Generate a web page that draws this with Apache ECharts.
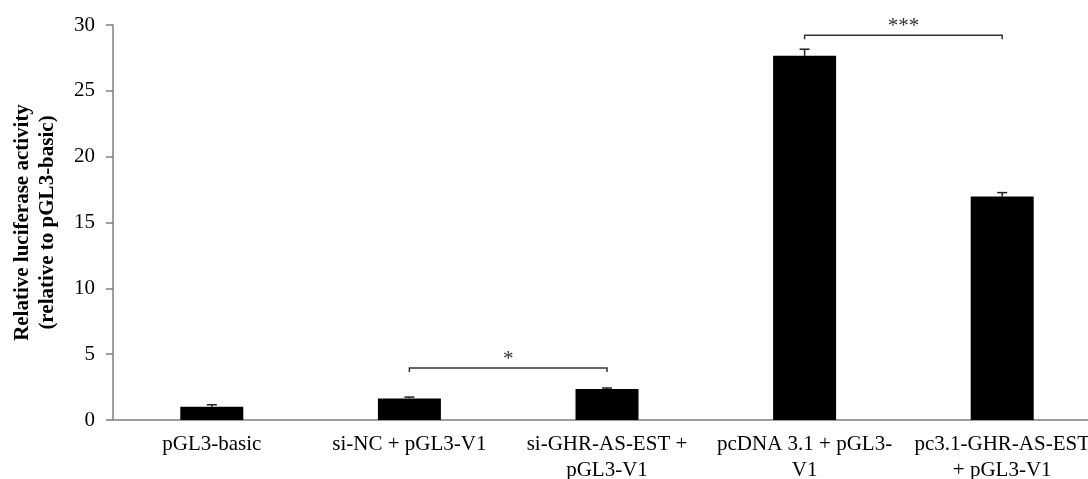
<!DOCTYPE html>
<html><head><meta charset="utf-8">
<script src="https://cdn.jsdelivr.net/npm/echarts@6/dist/echarts.min.js"></script>
<style>html,body{margin:0;padding:0;background:#fff}#c{width:1088px;height:479px}</style>
</head><body><div id="c"></div>
<script>
const categories = ['pGL3-basic', 'si-NC + pGL3-V1', 'si-GHR-AS-EST +\npGL3-V1', 'pcDNA 3.1 + pGL3-\nV1', 'pc3.1-GHR-AS-EST\n+ pGL3-V1'];
const values = [1.01, 1.64, 2.35, 27.66, 16.97];
const errors = [0.15, 0.10, 0.08, 0.50, 0.30];
const yTicks = [0, 5, 10, 15, 20, 25, 30];
const brackets = [[1, 2, 3.95, '*'], [3, 4, 29.22, '***']];

const FONT = '"Liberation Serif", "Times New Roman", serif';
const chart = echarts.init(document.getElementById('c'), null, {renderer: 'canvas'});
chart.setOption({
  animation: false,
  backgroundColor: '#fff',
  grid: {left: 113, top: 25, height: 395, width: 988, containLabel: false, outerBoundsMode: 'none'},
  xAxis: {
    type: 'category',
    data: categories,
    axisLine: {lineStyle: {color: '#7f7f7f', width: 1.5}},
    axisTick: {show: false},
    axisLabel: {color: '#000', fontFamily: FONT, fontSize: 21, lineHeight: 26, margin: 11, interval: 0}
  },
  yAxis: {
    type: 'value',
    min: yTicks[0], max: yTicks[yTicks.length - 1], interval: 5,
    name: 'Relative luciferase activity\n(relative to pGL3-basic)',
    nameLocation: 'middle', nameGap: 53,
    nameTextStyle: {color: '#000', fontFamily: FONT, fontSize: 21, fontWeight: 'bold', lineHeight: 25},
    axisLine: {show: true, lineStyle: {color: '#7f7f7f', width: 1.5}},
    axisTick: {show: true, inside: false, length: 7, lineStyle: {color: '#7f7f7f', width: 1.5}},
    axisLabel: {color: '#000', fontFamily: FONT, fontSize: 21, margin: 18},
    splitLine: {show: false}
  },
  series: [
    {
      type: 'bar', data: values, barWidth: 63,
      itemStyle: {color: '#000'}, z: 2
    },
    {
      type: 'custom', z: 3,
      data: values.map((v, i) => [i, v, errors[i]]),
      renderItem: function (params, api) {
        const i = api.value(0), v = api.value(1), e = api.value(2);
        const b = api.coord([i, v]);
        const t = api.coord([i, v + e]);
        const w = 5;
        return {type: 'group', children: [
          {type: 'line', shape: {x1: b[0], y1: b[1], x2: t[0], y2: t[1]}, style: {stroke: '#222', lineWidth: 1.5}},
          {type: 'line', shape: {x1: t[0] - w, y1: t[1], x2: t[0] + w, y2: t[1]}, style: {stroke: '#222', lineWidth: 1.5}}
        ]};
      }
    },
    {
      type: 'custom', z: 4,
      data: brackets.map(b => [b[0], b[1], b[2]]),
      renderItem: function (params, api) {
        const a = api.coord([api.value(0), api.value(2)]);
        const c = api.coord([api.value(1), api.value(2)]);
        const label = brackets[params.dataIndex][3];
        const d = 4;
        return {type: 'group', children: [
          {type: 'polyline', shape: {points: [[a[0], a[1] + d], [a[0], a[1]], [c[0], a[1]], [c[0], a[1] + d]]},
            style: {stroke: '#333', lineWidth: 1.5, fill: null}},
          {type: 'text', style: {x: (a[0] + c[0]) / 2, y: a[1] + 2, text: label, textAlign: 'center', textVerticalAlign: 'bottom',
            fontFamily: FONT, fontSize: 21, fill: '#333'}}
        ]};
      }
    }
  ]
});
</script></body></html>
